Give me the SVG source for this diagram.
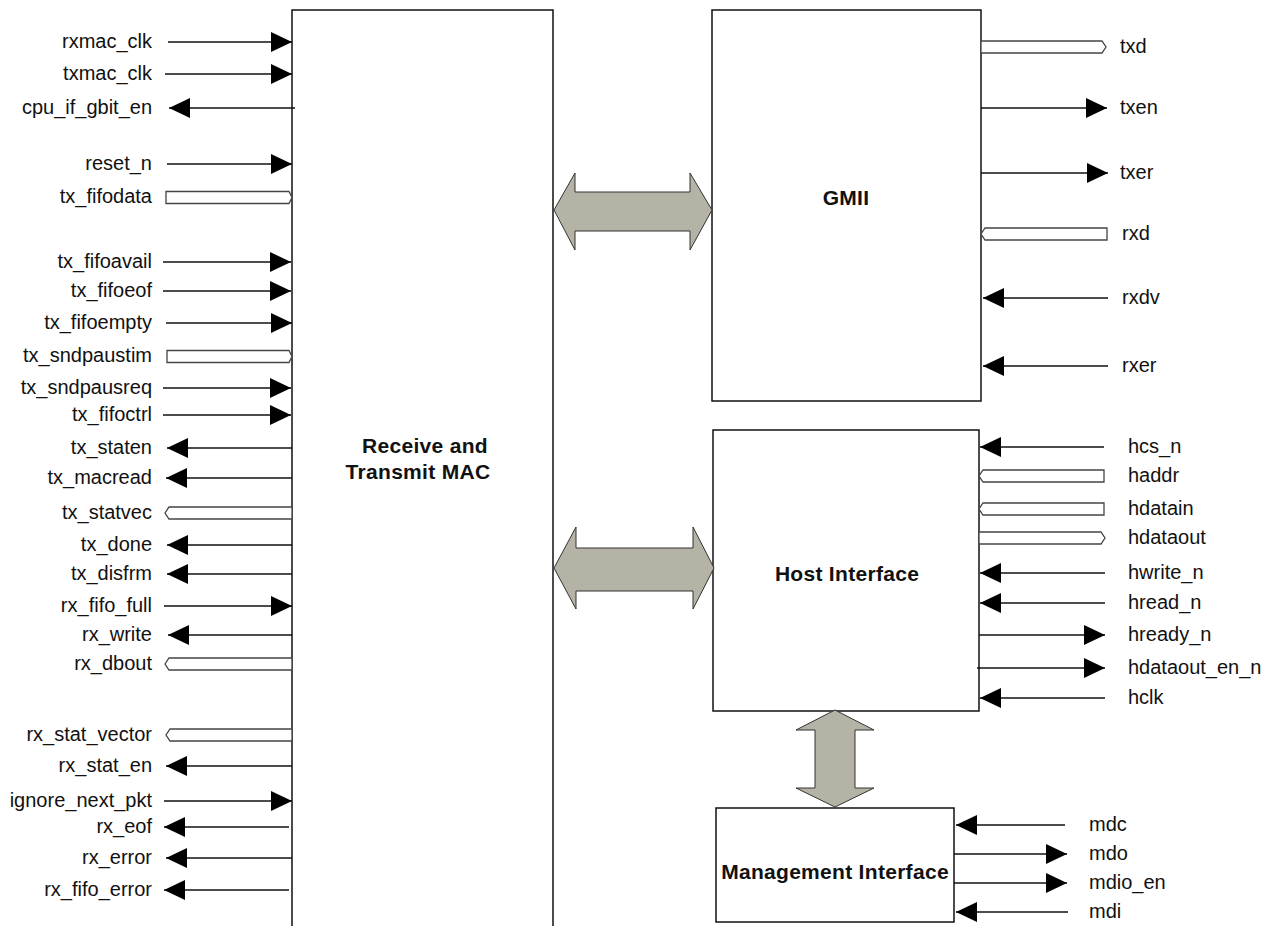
<svg xmlns="http://www.w3.org/2000/svg" width="1268" height="926" viewBox="0 0 1268 926">
<style>
.lbl{font-family:"Liberation Sans",Arial,sans-serif;font-size:20px;fill:#111}
.l{text-anchor:end}
.ttl{font-family:"Liberation Sans",Arial,sans-serif;font-size:21px;font-weight:bold;fill:#111;text-anchor:middle;letter-spacing:0.3px}
.box{fill:#fff;stroke:#111;stroke-width:1.5}
.sig{stroke:#111;stroke-width:1.5;fill:none;marker-end:url(#ah)}
.bus{fill:#fff;stroke:#444;stroke-width:1.3}
.big{fill:#b4b3a6;stroke:#333;stroke-width:1}
</style>
<defs>
<marker id="ah" viewBox="0 0 21 20" refX="21" refY="10" markerWidth="21" markerHeight="20" markerUnits="userSpaceOnUse" orient="auto">
<path d="M0,0 L21,10 L0,20 Z" fill="#000"/>
</marker>
</defs>
<rect width="1268" height="926" fill="#fff"/>

<g id="mac">
<path class="box" d="M292,927 V10 H553 V927"/>
<text class="ttl" x="425" y="453">Receive and</text>
<text class="ttl" x="418" y="479">Transmit MAC</text>
</g>
<g id="gmii">
<rect class="box" x="712" y="10" width="269" height="391"/>
<text class="ttl" x="846" y="205">GMII</text>
</g>
<g id="host">
<rect class="box" x="713" y="430" width="266" height="281"/>
<text class="ttl" x="847" y="581">Host Interface</text>
</g>
<g id="mgmt">
<rect class="box" x="716" y="808" width="238" height="114"/>
<text class="ttl" x="835" y="879">Management Interface</text>
</g>

<g id="connectors">
<path class="big" d="M554,210 L575,173 L575,192 L690,192 L690,173 L712,210 L690,250 L690,231 L575,231 L575,250 Z"/>
<path class="big" d="M554,568 L576,527 L576,548 L693,548 L693,527 L714,568 L693,609 L693,591 L576,591 L576,609 Z"/>
<path class="big" d="M835,710 L874,730 L855,730 L855,788 L874,788 L835,807 L796,788 L815,788 L815,730 L796,730 Z"/>

<line class="sig" x1="168" y1="42" x2="292" y2="42"/>
<line class="sig" x1="165" y1="74" x2="292" y2="74"/>
<line class="sig" x1="295" y1="108" x2="169" y2="108"/>
<line class="sig" x1="167" y1="164" x2="292" y2="164"/>
<path class="bus" d="M166,191.5 H289 L292,197.5 L289,203.5 H166 Z"/>
<line class="sig" x1="163" y1="262" x2="291" y2="262"/>
<line class="sig" x1="163" y1="291" x2="291" y2="291"/>
<line class="sig" x1="166" y1="323" x2="292" y2="323"/>
<path class="bus" d="M167,350.5 H289 L292,356.5 L289,362.5 H167 Z"/>
<line class="sig" x1="163" y1="388" x2="291" y2="388"/>
<line class="sig" x1="163" y1="415" x2="291" y2="415"/>
<line class="sig" x1="292" y1="448" x2="167" y2="448"/>
<line class="sig" x1="292" y1="478" x2="166" y2="478"/>
<path class="bus" d="M165,513 L169,507 H292 V519 H169 Z"/>
<line class="sig" x1="292" y1="545" x2="167" y2="545"/>
<line class="sig" x1="292" y1="574" x2="167" y2="574"/>
<line class="sig" x1="164" y1="606" x2="292" y2="606"/>
<line class="sig" x1="292" y1="635" x2="168" y2="635"/>
<path class="bus" d="M165,664 L169,658 H292 V670 H169 Z"/>
<path class="bus" d="M166,735 L170,729 H292 V741 H170 Z"/>
<line class="sig" x1="292" y1="766" x2="166" y2="766"/>
<line class="sig" x1="164" y1="801" x2="292" y2="801"/>
<line class="sig" x1="289" y1="827" x2="164" y2="827"/>
<line class="sig" x1="292" y1="858" x2="166" y2="858"/>
<line class="sig" x1="289" y1="890" x2="164" y2="890"/>

<path class="bus" d="M981,41 H1102 L1106,47 L1102,53 H981 Z"/>
<line class="sig" x1="981" y1="108" x2="1107" y2="108"/>
<line class="sig" x1="981" y1="173" x2="1108" y2="173"/>
<path class="bus" d="M981,234 L985,228 H1107 V240 H985 Z"/>
<line class="sig" x1="1108" y1="298" x2="983" y2="298"/>
<line class="sig" x1="1108" y1="366" x2="983" y2="366"/>

<line class="sig" x1="1104" y1="447" x2="980" y2="447"/>
<path class="bus" d="M979,476 L983,470 H1104 V482 H983 Z"/>
<path class="bus" d="M979,509 L983,503 H1104 V515 H983 Z"/>
<path class="bus" d="M979,532 H1101 L1105,538 L1101,544 H979 Z"/>
<line class="sig" x1="1105" y1="573" x2="980" y2="573"/>
<line class="sig" x1="1105" y1="603" x2="980" y2="603"/>
<line class="sig" x1="979" y1="635" x2="1105" y2="635"/>
<line class="sig" x1="977" y1="668" x2="1105" y2="668"/>
<line class="sig" x1="1105" y1="698" x2="980" y2="698"/>

<line class="sig" x1="1065" y1="825" x2="956" y2="825"/>
<line class="sig" x1="954" y1="854" x2="1067" y2="854"/>
<line class="sig" x1="954" y1="883" x2="1067" y2="883"/>
<line class="sig" x1="1068" y1="912" x2="956" y2="912"/>
</g>

<g id="labels">
<text class="lbl l" x="152" y="48">rxmac_clk</text>
<text class="lbl l" x="152" y="80">txmac_clk</text>
<text class="lbl l" x="152" y="114">cpu_if_gbit_en</text>
<text class="lbl l" x="152" y="170">reset_n</text>
<text class="lbl l" x="152" y="203">tx_fifodata</text>
<text class="lbl l" x="152" y="268">tx_fifoavail</text>
<text class="lbl l" x="152" y="297">tx_fifoeof</text>
<text class="lbl l" x="152" y="329">tx_fifoempty</text>
<text class="lbl l" x="152" y="362">tx_sndpaustim</text>
<text class="lbl l" x="152" y="394">tx_sndpausreq</text>
<text class="lbl l" x="152" y="421">tx_fifoctrl</text>
<text class="lbl l" x="152" y="454">tx_staten</text>
<text class="lbl l" x="152" y="484">tx_macread</text>
<text class="lbl l" x="152" y="519">tx_statvec</text>
<text class="lbl l" x="152" y="551">tx_done</text>
<text class="lbl l" x="152" y="580">tx_disfrm</text>
<text class="lbl l" x="152" y="612">rx_fifo_full</text>
<text class="lbl l" x="152" y="641">rx_write</text>
<text class="lbl l" x="152" y="670">rx_dbout</text>
<text class="lbl l" x="152" y="741">rx_stat_vector</text>
<text class="lbl l" x="152" y="772">rx_stat_en</text>
<text class="lbl l" x="152" y="807">ignore_next_pkt</text>
<text class="lbl l" x="152" y="833">rx_eof</text>
<text class="lbl l" x="152" y="864">rx_error</text>
<text class="lbl l" x="152" y="896">rx_fifo_error</text>

<text class="lbl" x="1120" y="53">txd</text>
<text class="lbl" x="1120" y="114">txen</text>
<text class="lbl" x="1120" y="179">txer</text>
<text class="lbl" x="1122" y="240">rxd</text>
<text class="lbl" x="1122" y="304">rxdv</text>
<text class="lbl" x="1122" y="372">rxer</text>

<text class="lbl" x="1128" y="453">hcs_n</text>
<text class="lbl" x="1128" y="482">haddr</text>
<text class="lbl" x="1128" y="515">hdatain</text>
<text class="lbl" x="1128" y="544">hdataout</text>
<text class="lbl" x="1128" y="579">hwrite_n</text>
<text class="lbl" x="1128" y="609">hread_n</text>
<text class="lbl" x="1128" y="641">hready_n</text>
<text class="lbl" x="1128" y="674">hdataout_en_n</text>
<text class="lbl" x="1128" y="704">hclk</text>

<text class="lbl" x="1089" y="831">mdc</text>
<text class="lbl" x="1089" y="860">mdo</text>
<text class="lbl" x="1089" y="889">mdio_en</text>
<text class="lbl" x="1089" y="918">mdi</text>
</g>
</svg>
